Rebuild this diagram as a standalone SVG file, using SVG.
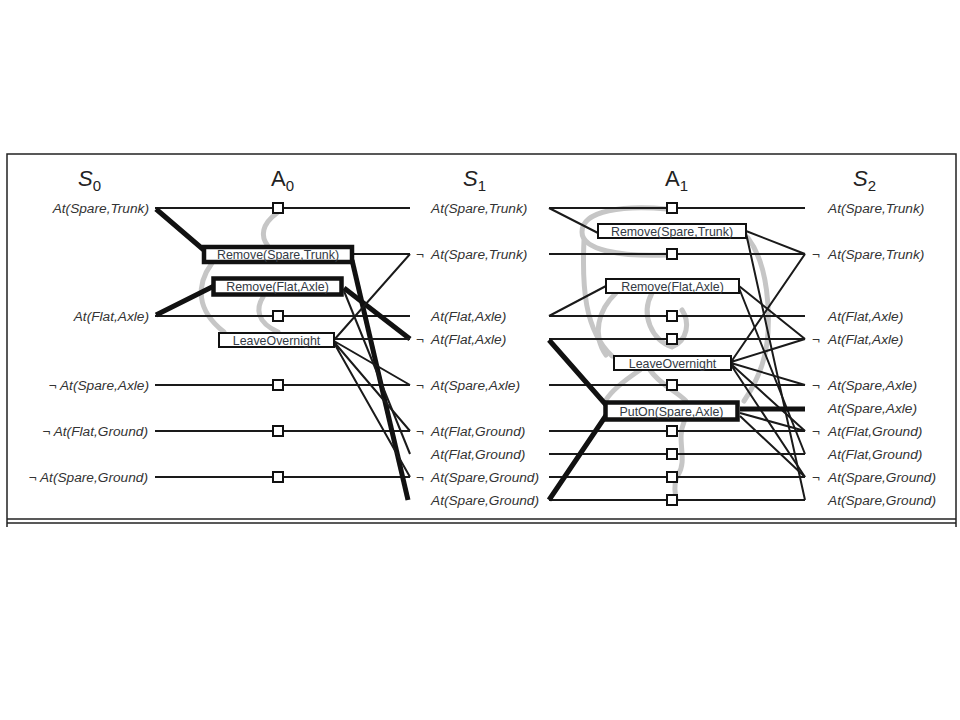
<svg xmlns="http://www.w3.org/2000/svg" width="960" height="720" viewBox="0 0 960 720">
<style>
.lbl{font-family:"Liberation Sans",Arial,sans-serif;font-style:italic;font-size:13.7px;fill:#333}
.hd{font-family:"Liberation Sans",Arial,sans-serif;font-size:22px;fill:#222}
.sub{font-size:15px}
.at{font-family:"Liberation Sans",Arial,sans-serif;font-size:12.4px;fill:#333a44;text-anchor:middle}
.thin{stroke:#1a1a1a;stroke-width:2;fill:none}
.thick{stroke:#111;stroke-width:5;fill:none}
.mx{stroke:#c6c6c6;stroke-width:5;fill:none;stroke-linecap:round}
.sq{fill:#fff;stroke:#111;stroke-width:2}
.bx{fill:#fff;stroke:#111;stroke-width:2}
.bxb{fill:#fff;stroke:#111;stroke-width:4.5}
.frame{stroke:#222;stroke-width:1.5;fill:none}
</style>
<rect width="960" height="720" fill="#fff"/>
<g id="frame">
<path class="frame" d="M7,527 V154 H956 V527"/>
<line class="frame" x1="7" y1="519" x2="956" y2="519"/>
<line class="frame" x1="7" y1="523" x2="956" y2="523"/>
</g>
<g id="headers">
<text class="hd" x="78" y="186" font-style="italic">S<tspan class="sub" dy="5" font-style="normal">0</tspan></text>
<text class="hd" x="271" y="186">A<tspan class="sub" dy="5">0</tspan></text>
<text class="hd" x="463" y="186" font-style="italic">S<tspan class="sub" dy="5" font-style="normal">1</tspan></text>
<text class="hd" x="665" y="186">A<tspan class="sub" dy="5">1</tspan></text>
<text class="hd" x="853" y="186" font-style="italic">S<tspan class="sub" dy="5" font-style="normal">2</tspan></text>
</g>
<g id="connectors">
<g id="mutex">
<path class="mx" d="M277,213 C262,224 260,236 268,246"/>
<path class="mx" d="M212,263 C196,285 196,310 224,332"/>
<path class="mx" d="M263,297 C256,308 256,322 278,332"/>
<path class="mx" d="M667,209 C625,205 582,210 582,232 C582,250 620,257 667,255"/>
<path class="mx" d="M584,240 C582,285 584,330 612,356"/>
<path class="mx" d="M616,293 C598,310 592,335 606,355"/>
<path class="mx" d="M652,293 C640,315 652,340 672,347 C688,340 690,322 682,310"/>
<path class="mx" d="M650,370 C660,385 675,390 686,401"/>
<path class="mx" d="M640,370 C625,380 612,390 606,400"/>
<path class="mx" d="M684,422 C676,440 688,460 678,475 C672,485 676,495 676,500"/>
<path class="mx" d="M748,238 C772,270 772,335 762,365 C757,380 750,392 744,401"/>
</g>
<g id="level0">
<path class="thin" d="M155,208 H410 M155,316 H410 M155,385 H410 M155,431 H410 M155,477 H410"/>
<path class="thick" d="M156,209 L205,251 M156,315 L214,286"/>
<path class="thin" d="M354,254 H410"/>
<path class="thick" d="M352,260 L408,500"/>
<path class="thick" d="M344,288 L410,339"/>
<path class="thin" d="M344,291 L410,454"/>
<path class="thin" d="M334,340 L410,254 M334,339 H410 M334,341 L410,385 M334,342 L410,431 M334,343 L410,477"/>
</g>
<g id="level1">
<path class="thin" d="M549,208 H805 M549,254 H805 M549,316 H805 M549,339 H805 M549,385 H805 M549,431 H805 M549,454 H805 M549,477 H805 M549,500 H805"/>
<path class="thin" d="M549,208 L598,233 M549,316 L606,286"/>
<path class="thick" d="M549,340 L607,406 M549,500 L607,414"/>
<path class="thin" d="M746,231 L805,254 M746,233 L805,500"/>
<path class="thin" d="M739,286 L805,339 M739,288 L805,454"/>
<path class="thin" d="M731,362 L805,254 M731,362 L805,339 M731,363 L805,385 M731,364 L805,431 M731,365 L805,477"/>
<path class="thick" d="M740,409 H805" stroke-width="6"/>
<path class="thin" d="M740,413 L805,431 M740,416 L805,477"/>
</g>
</g>
<g id="squares">
<rect class="sq" x="273" y="203" width="10" height="10"/>
<rect class="sq" x="273" y="311" width="10" height="10"/>
<rect class="sq" x="273" y="380" width="10" height="10"/>
<rect class="sq" x="273" y="426" width="10" height="10"/>
<rect class="sq" x="273" y="472" width="10" height="10"/>
<rect class="sq" x="667" y="203" width="10" height="10"/>
<rect class="sq" x="667" y="249" width="10" height="10"/>
<rect class="sq" x="667" y="311" width="10" height="10"/>
<rect class="sq" x="667" y="334" width="10" height="10"/>
<rect class="sq" x="667" y="380" width="10" height="10"/>
<rect class="sq" x="667" y="426" width="10" height="10"/>
<rect class="sq" x="667" y="449" width="10" height="10"/>
<rect class="sq" x="667" y="472" width="10" height="10"/>
<rect class="sq" x="667" y="495" width="10" height="10"/>
</g>
<g id="a0-remove-spare-trunk"><rect class="bxb" x="204" y="247" width="148" height="15"/><text class="at" x="278" y="259">Remove(Spare,Trunk)</text></g>
<g id="a0-remove-flat-axle"><rect class="bxb" x="213.5" y="278.5" width="128" height="16" stroke-width="5"/><text class="at" x="277.5" y="291">Remove(Flat,Axle)</text></g>
<g id="a0-leaveovernight"><rect class="bx" x="219" y="333" width="115" height="14"/><text class="at" x="276.5" y="344.5">LeaveOvernight</text></g>
<g id="a1-remove-spare-trunk"><rect class="bx" x="598" y="224" width="148" height="14"/><text class="at" x="672" y="235.5">Remove(Spare,Trunk)</text></g>
<g id="a1-remove-flat-axle"><rect class="bx" x="606" y="279" width="133" height="14"/><text class="at" x="672.5" y="290.5">Remove(Flat,Axle)</text></g>
<g id="a1-leaveovernight"><rect class="bx" x="614" y="356" width="117" height="14"/><text class="at" x="672.5" y="367.5">LeaveOvernight</text></g>
<g id="a1-puton-spare-axle"><rect class="bxb" x="605.5" y="402.5" width="132" height="17"/><text class="at" x="671.5" y="415.5">PutOn(Spare,Axle)</text></g>
<g id="s0-labels">
<text class="lbl" x="149" y="213" text-anchor="end">At(Spare,Trunk)</text>
<text class="lbl" x="149" y="321" text-anchor="end">At(Flat,Axle)</text>
<text class="lbl" x="149" y="390" text-anchor="end">¬  At(Spare,Axle)</text>
<text class="lbl" x="148" y="436" text-anchor="end">¬  At(Flat,Ground)</text>
<text class="lbl" x="148" y="482" text-anchor="end">¬  At(Spare,Ground)</text>
</g>
<g id="s1-labels">
<text class="lbl" x="431" y="213">At(Spare,Trunk)</text>
<text class="lbl" x="416" y="259">¬<tspan x="431">At(Spare,Trunk)</tspan></text>
<text class="lbl" x="431" y="321">At(Flat,Axle)</text>
<text class="lbl" x="416" y="344">¬<tspan x="431">At(Flat,Axle)</tspan></text>
<text class="lbl" x="416" y="390">¬<tspan x="431">At(Spare,Axle)</tspan></text>
<text class="lbl" x="416" y="436">¬<tspan x="431">At(Flat,Ground)</tspan></text>
<text class="lbl" x="431" y="459">At(Flat,Ground)</text>
<text class="lbl" x="416" y="482">¬<tspan x="431">At(Spare,Ground)</tspan></text>
<text class="lbl" x="431" y="505">At(Spare,Ground)</text>
</g>
<g id="s2-labels">
<text class="lbl" x="828" y="213">At(Spare,Trunk)</text>
<text class="lbl" x="812" y="259">¬<tspan x="828">At(Spare,Trunk)</tspan></text>
<text class="lbl" x="828" y="321">At(Flat,Axle)</text>
<text class="lbl" x="812" y="344">¬<tspan x="828">At(Flat,Axle)</tspan></text>
<text class="lbl" x="812" y="390">¬<tspan x="828">At(Spare,Axle)</tspan></text>
<text class="lbl" x="828" y="413">At(Spare,Axle)</text>
<text class="lbl" x="812" y="436">¬<tspan x="828">At(Flat,Ground)</tspan></text>
<text class="lbl" x="828" y="459">At(Flat,Ground)</text>
<text class="lbl" x="812" y="482">¬<tspan x="828">At(Spare,Ground)</tspan></text>
<text class="lbl" x="828" y="505">At(Spare,Ground)</text>
</g>
</svg>
